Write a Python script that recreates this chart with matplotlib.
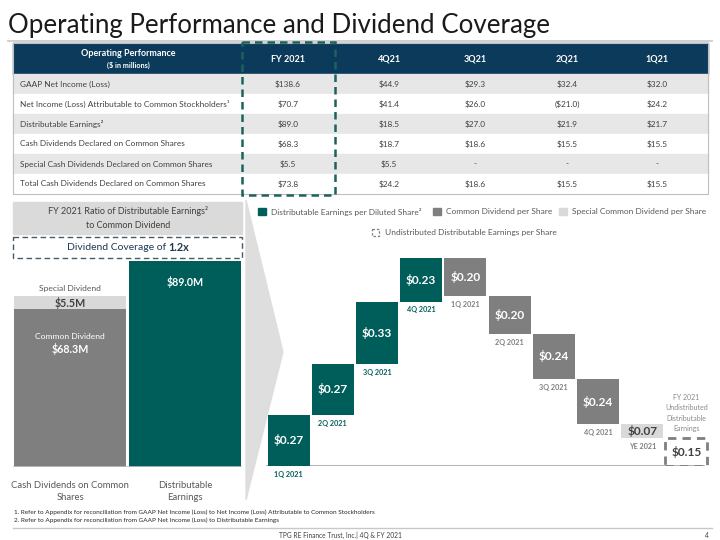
import matplotlib
matplotlib.use("Agg")
import matplotlib.pyplot as plt
from matplotlib.patches import Rectangle, Polygon
import numpy as np

plt.rcParams['font.family'] = ['Lato', 'DejaVu Sans']

# ---------------- data ----------------
title = "Operating Performance and Dividend Coverage"
table_columns = ["FY 2021", "4Q21", "3Q21", "2Q21", "1Q21"]
row_labels = ["GAAP Net Income (Loss)",
              "Net Income (Loss) Attributable to Common Stockholders\u00b9",
              "Distributable Earnings\u00b2",
              "Cash Dividends Declared on Common Shares",
              "Special Cash Dividends Declared on Common Shares",
              "Total Cash Dividends Declared on Common Shares"]
gaap_net_income = [138.6, 44.9, 29.3, 32.4, 32.0]
net_income_common = [70.7, 41.4, 26.0, -21.0, 24.2]
distributable_earnings = [89.0, 18.5, 27.0, 21.9, 21.7]
cash_dividends = [68.3, 18.7, 18.6, 15.5, 15.5]
special_dividends = [5.5, 5.5, None, None, None]
total_dividends = [73.8, 24.2, 18.6, 15.5, 15.5]

cov_categories = ["Cash Dividends on Common\nShares", "Distributable\nEarnings"]
fy_common_div = 68.3
fy_special_div = 5.5
fy_distributable = 89.0
coverage = 1.2

de_quarters = ["1Q 2021", "2Q 2021", "3Q 2021", "4Q 2021"]
de_per_share = [0.27, 0.27, 0.33, 0.23]
div_quarters = ["1Q 2021", "2Q 2021", "3Q 2021", "4Q 2021"]
div_per_share = [0.20, 0.20, 0.24, 0.24]
special_label = "YE 2021"
special_per_share = 0.07
undistributed_per_share = 0.15

# ---------------- colours ----------------
NAVY = '#0c3a5b'
TEAL = '#005e5a'
GRAY = '#7f7f7f'
LGRAY = '#d9d9d9'
ROWGRAY = '#e7e7e7'
TXT = '#404040'
TXT2 = '#595959'

fig = plt.figure(figsize=(7.2, 5.4), dpi=100)
bg = fig.add_axes([0, 0, 1, 1])
bg.set_xlim(0, 720)
bg.set_ylim(540, 0)
bg.axis('off')


def rect(x0, y0, x1, y1, **kw):
    bg.add_patch(Rectangle((x0, y0), x1 - x0, y1 - y0, **kw))


# title
bg.text(8, 32.5, title, fontsize=18.6, color='#1a1a1a', va='baseline', ha='left')
bg.plot([8, 712], [40.5, 40.5], color='#c8c8c8', lw=1.2)

# ---------------- table ----------------
tx0, tx1 = 13, 708
hy0, hy1 = 43, 74
row_h = 20
rect(tx0, hy0, tx1, hy1, color=NAVY, zorder=1)
col_centers = [288, 389, 475, 567, 657]
bg.text(128, 54, "Operating Performance", color='white', fontsize=6.5,
        fontweight='bold', ha='center', va='center')
bg.text(128, 65.5, "($ in millions)", color='white', fontsize=5.2,
        fontweight='bold', ha='center', va='center')
for c, x in zip(table_columns, col_centers):
    bg.text(x, 59, c, color='white', fontsize=6.5, fontweight='bold',
            ha='center', va='center')


def fmt(v):
    if v is None:
        return "-"
    if v < 0:
        return "(${:.1f})".format(-v)
    return "${:.1f}".format(v)


rows = [gaap_net_income, net_income_common, distributable_earnings,
        cash_dividends, special_dividends, total_dividends]
for i, (lab, vals) in enumerate(zip(row_labels, rows)):
    y0 = hy1 + i * row_h
    rect(tx0, y0, tx1, y0 + row_h,
         color=ROWGRAY if i % 2 == 0 else 'white', zorder=1)
    yc = y0 + row_h / 2
    bg.text(20, yc, lab, fontsize=5.95, color=TXT, ha='left', va='center')
    for v, x in zip(vals, col_centers):
        bg.text(x, yc, fmt(v), fontsize=5.95, color=TXT, ha='center',
                va='center')
ty1 = hy1 + 6 * row_h
bg.add_patch(Rectangle((tx0, hy0), tx1 - tx0, ty1 - hy0, fill=False,
                       edgecolor='#bfbfbf', lw=0.8, zorder=2))
bg.add_patch(Rectangle((242, 42), 93, ty1 - 42 + 1, fill=False,
                       edgecolor='#1d625c', lw=1.8, ls=(0, (3, 2)), zorder=3))

# ---------------- left coverage panel ----------------
rect(13, 202, 242, 234, color='#dadada', zorder=1)
bg.text(128, 211, "FY 2021 Ratio of Distributable Earnings\u00b2",
        fontsize=6.5, color=TXT, ha='center', va='center')
bg.text(128, 225, "to Common Dividend", fontsize=6.5, color=TXT,
        ha='center', va='center')
bg.add_patch(Rectangle((13, 237), 229, 21, fill=False, edgecolor='#4a5b68',
                       lw=1.0, ls=(0, (4, 2.5)), zorder=2))
t1 = bg.text(128, 247.5, "Dividend Coverage of ", fontsize=7.5,
             color='#1f3b52', ha='right', va='center')
t2 = bg.text(128, 247.5, "{:.1f}x".format(coverage), fontsize=7.8,
             color='#1f3b52', ha='left', va='center', fontweight='bold')
fig.canvas.draw()
r = fig.canvas.get_renderer()
w1 = t1.get_window_extent(r).width
w2 = t2.get_window_extent(r).width
t1.set_x(128 - (w1 + w2) / 2 + w1)
t2.set_x(128 - (w1 + w2) / 2 + w1)

# chevron
bg.add_patch(Polygon([(246, 200), (283, 352), (246, 500)], closed=True,
                     color='#dedede', zorder=0))

# stacked coverage bars (axes)
px_per_m = 206.0 / fy_distributable
sb_h_px = 240
sb = fig.add_axes([12.5 / 720, (540 - 467) / 540, 230 / 720, sb_h_px / 540])
sb.set_xlim(-0.5, 1.5)
sb.set_ylim(0, sb_h_px / px_per_m)
sb.axis('off')
sb.bar([0], [fy_common_div], width=0.974, color=GRAY, zorder=2)
sb.bar([0], [fy_special_div], bottom=[fy_common_div], width=0.974,
       color=LGRAY, zorder=2)
sb.bar([1], [fy_distributable], width=0.974, color=TEAL, zorder=2)
sb.axhline(0, color='#bfbfbf', lw=1.2, xmin=0.0, xmax=1.0, zorder=3)
top_tot = fy_common_div + fy_special_div
sb.annotate("Special Dividend", (0, top_tot), xytext=(0, 3),
            textcoords='offset points', ha='center', va='bottom',
            fontsize=6.1, color=TXT2)
sb.annotate("${:.1f}M".format(fy_special_div), (0, top_tot), xytext=(0, -5),
            textcoords='offset points', ha='center', va='center',
            fontsize=7.7, color=TXT, fontweight='bold')
sb.annotate("Common Dividend", (0, fy_common_div), xytext=(0, -20),
            textcoords='offset points', ha='center', va='center',
            fontsize=6.1, color='white')
sb.annotate("${:.1f}M".format(fy_common_div), (0, fy_common_div),
            xytext=(0, -29), textcoords='offset points', ha='center',
            va='center', fontsize=7.7, color='white', fontweight='bold')
sb.annotate("${:.1f}M".format(fy_distributable), (1, fy_distributable),
            xytext=(0, -15), textcoords='offset points', ha='center',
            va='center', fontsize=7.7, color='white', fontweight='bold')
for i, c in enumerate(cov_categories):
    sb.annotate(c, (i, 0), xytext=(0, -10), textcoords='offset points',
                ha='center', va='top', fontsize=6.8, color=TXT2,
                linespacing=1.4)

# ---------------- waterfall ----------------
px_per_unit = 189.0
wf_top_units = 1.2
wf = fig.add_axes([266.4 / 720, (540 - 466) / 540, 442.2 / 720,
                   wf_top_units * px_per_unit / 540])
wf.set_xlim(-0.5, 9.5)
wf.set_ylim(0, wf_top_units)
wf.axis('off')
W = 0.95

de_arr = np.array(de_per_share)
de_bottoms = np.concatenate([[0], np.cumsum(de_arr)[:-1]])
de_x = np.arange(len(de_arr))
wf.bar(de_x, de_arr, bottom=de_bottoms, width=W, color=TEAL, zorder=2)
for x, b, v, q in zip(de_x, de_bottoms, de_arr, de_quarters):
    wf.text(x, b + v / 2, "${:.2f}".format(v), ha='center', va='center',
            color='white', fontsize=8.6, fontweight='bold', zorder=4)
    wf.annotate(q, (x, b), xytext=(0, -3.5), textcoords='offset points',
                ha='center', va='top', color=TEAL, fontsize=5.2,
                fontweight='bold')

total_de = de_arr.sum()
dv = np.array(div_per_share)
dv_tops = total_de - np.concatenate([[0], np.cumsum(dv)[:-1]])
dv_bottoms = dv_tops - dv
dv_x = np.arange(len(dv)) + len(de_arr)
wf.bar(dv_x, dv, bottom=dv_bottoms, width=W, color=GRAY, zorder=2)
for x, b, v, q in zip(dv_x, dv_bottoms, dv, div_quarters):
    wf.text(x, b + v / 2, "${:.2f}".format(v), ha='center', va='center',
            color='white', fontsize=8.6, fontweight='bold', zorder=4)
    wf.annotate(q, (x, b), xytext=(0, -3.5), textcoords='offset points',
                ha='center', va='top', color=GRAY, fontsize=5.2,
                fontweight='bold')

sp_x = dv_x[-1] + 1
sp_top = dv_bottoms[-1]
sp_bottom = sp_top - special_per_share
wf.bar([sp_x], [special_per_share], bottom=[sp_bottom], width=W, color=LGRAY,
       zorder=2)
wf.text(sp_x, sp_bottom + special_per_share / 2,
        "${:.2f}".format(special_per_share), ha='center', va='center',
        color=TXT, fontsize=8.6, fontweight='bold', zorder=4)
wf.annotate(special_label, (sp_x, sp_bottom), xytext=(0, -3.5),
            textcoords='offset points', ha='center', va='top', color=GRAY,
            fontsize=5.2, fontweight='bold')

ud_x = sp_x + 1
wf.bar([ud_x], [undistributed_per_share], width=W, fill=False,
       edgecolor=GRAY, lw=2.0, ls=(0, (3, 2.2)), zorder=3)
wf.text(ud_x, undistributed_per_share / 2,
        "${:.2f}".format(undistributed_per_share), ha='center', va='center',
        color=TXT, fontsize=8.6, fontweight='bold', zorder=4)
wf.annotate("FY 2021\nUndistributed\nDistributable\nEarnings",
            (ud_x, undistributed_per_share), xytext=(0, 4),
            textcoords='offset points', ha='center', va='bottom',
            color='#8a8a8a', fontsize=5.0, linespacing=1.55)
wf.axhline(0, xmin=-0.003, xmax=0.99, color='#a6a6a6', lw=1.2, zorder=1)

# legend
ly1 = 211.5
lfs = 6.0
rect(258, ly1 - 3.8, 265.5, ly1 + 3.8, color=TEAL)
bg.text(271, ly1, "Distributable Earnings per Diluted Share\u00b2", fontsize=lfs,
        color=TXT2, ha='left', va='center')
rect(433, ly1 - 3.8, 440.5, ly1 + 3.8, color=GRAY)
bg.text(446, ly1, "Common Dividend per Share", fontsize=lfs, color=TXT2,
        ha='left', va='center')
rect(559, ly1 - 3.8, 566.5, ly1 + 3.8, color=LGRAY)
bg.text(572, ly1, "Special Common Dividend per Share", fontsize=lfs,
        color=TXT2, ha='left', va='center')
ly2 = 232.5
bg.add_patch(Rectangle((372, ly2 - 3.5), 6.5, 7, fill=False, edgecolor=GRAY,
                       lw=0.9, ls=(0, (2, 1.5))))
bg.text(385, ly2, "Undistributed Distributable Earnings per Share",
        fontsize=lfs, color=TXT2, ha='left', va='center')

# footnotes & footer
bg.text(14, 512, "1. Refer to Appendix for reconciliation from GAAP Net Income (Loss) "
        "to Net Income (Loss) Attributable to Common Stockholders",
        fontsize=4.6, color='#262626', ha='left', va='center')
bg.text(14, 520.5, "2. Refer to Appendix for reconciliation from GAAP Net Income (Loss) "
        "to Distributable Earnings", fontsize=4.6, color='#262626', ha='left',
        va='center')
bg.plot([13, 712], [527.5, 527.5], color='#c8c8c8', lw=1.0)
bg.text(340, 535, "TPG RE Finance Trust, Inc.| 4Q & FY 2021", fontsize=4.8,
        color='#404040', ha='center', va='center')
bg.text(707, 535, "4", fontsize=4.8, color='#404040', ha='center',
        va='center')

fig.savefig("out.png", dpi=100)
